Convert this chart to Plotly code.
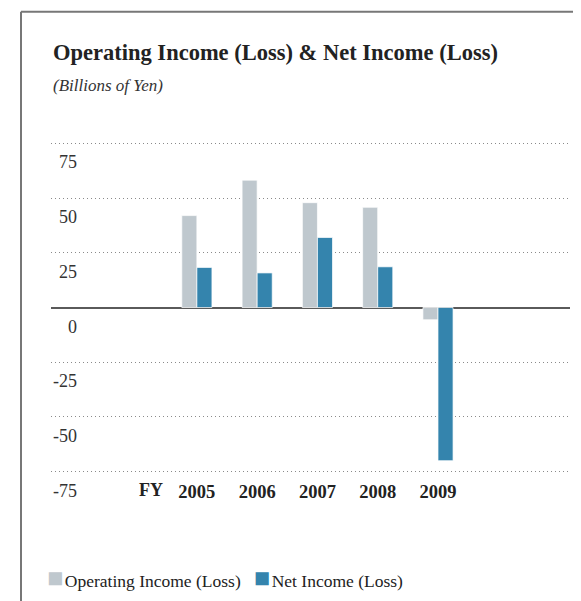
import plotly.graph_objects as go

years = ["2005", "2006", "2007", "2008", "2009"]
operating_income = [42.0, 58.2, 47.9, 45.8, -5.6]
net_income = [18.3, 15.8, 32.0, 18.6, -70.0]
y_ticks = [75, 50, 25, 0, -25, -50, -75]
series_names = ["Operating Income (Loss)", "Net Income (Loss)"]

GREY = "#BFC8CE"
BLUE = "#3484AD"
SERIF = "Liberation Serif"

W, H = 581, 601
OFF = 8  # page body margin: screen = figure + OFF

# screen-space: zero line at 307.5, 75 -> 143, -75 -> 472
K = (472 - 143) / 150.0
ZERO_Y = 307.5
YMAX = 77
SX0, SX1 = 51, 570
SY0, SY1 = ZERO_Y - YMAX * K, ZERO_Y + YMAX * K
L, R, T, B = SX0 - OFF, W - (SX1 - OFF), SY0 - OFF, H - (SY1 - OFF)
PW, PH = W - L - R, H - T - B


def px(sx):
    return (sx - SX0) / PW


def py(sy):
    return (SY1 - sy) / PH


fig = go.Figure()
fig.add_trace(go.Bar(x=years, y=operating_income, name=series_names[0],
                     marker=dict(color=GREY, line=dict(color="rgba(255,255,255,0.7)", width=1))))
fig.add_trace(go.Bar(x=years, y=net_income, name=series_names[1],
                     marker=dict(color=BLUE, line=dict(color="rgba(255,255,255,0.7)", width=1))))

annotations = []
for v in y_ticks:
    annotations.append(dict(xref="paper", yref="y", x=px(79), y=v,
                            xanchor="right", yanchor="middle", yshift=-19, showarrow=False,
                            text=str(v), font=dict(family=SERIF, size=18, color="#333")))
annotations.append(dict(xref="paper", yref="paper", x=px(151), y=py(490),
                        xanchor="center", yanchor="middle", showarrow=False,
                        text="<b>FY</b>", font=dict(family=SERIF, size=18, color="#222")))
annotations.append(dict(xref="paper", yref="paper", x=px(51), y=py(52),
                        xanchor="left", yanchor="middle", showarrow=False,
                        text="<b>Operating Income (Loss) &amp; Net Income (Loss)</b>",
                        font=dict(family=SERIF, size=22.5, color="#222")))
annotations.append(dict(xref="paper", yref="paper", x=px(51), y=py(85),
                        xanchor="left", yanchor="middle", showarrow=False,
                        text="<i>(Billions of Yen)</i>",
                        font=dict(family=SERIF, size=17, color="#333")))
sq = 'font-size:27px'
legend_text = (f'<span style="color:{GREY};{sq}">■</span><span style="font-size:6px"> </span>{series_names[0]}'
               f'&nbsp;&nbsp;&nbsp;<span style="color:{BLUE};{sq}">■</span><span style="font-size:6px"> </span>{series_names[1]}')
annotations.append(dict(xref="paper", yref="paper", x=px(45), y=py(579),
                        xanchor="left", yanchor="middle", showarrow=False,
                        text=legend_text, font=dict(family=SERIF, size=17.5, color="#222")))

fig.update_layout(
    width=W, height=H,
    margin=dict(l=L, r=R, t=T, b=B),
    paper_bgcolor="white", plot_bgcolor="white",
    barmode="group", bargap=0.5, bargroupgap=0,
    showlegend=False,
    annotations=annotations,
    xaxis=dict(type="category", range=[-2.42, 6.19], showgrid=False, showline=False,
               zeroline=False, ticks="", ticklabelstandoff=2,
               tickfont=dict(family=SERIF, size=18.5, color="#222"),
               tickprefix="<b>", ticksuffix="</b>"),
    yaxis=dict(range=[-YMAX, YMAX], tickvals=y_ticks, showticklabels=False,
               showgrid=True, gridcolor="#8a8a8a", gridwidth=1, griddash="1px,3px",
               zeroline=True, zerolinecolor="#5a5a5a", zerolinewidth=2, showline=False),
    shapes=[
        dict(type="line", xref="paper", yref="paper", x0=px(21), x1=px(W + 20),
             y0=py(11), y1=py(11), line=dict(color="#777", width=2)),
        dict(type="line", xref="paper", yref="paper", x0=px(21), x1=px(21),
             y0=py(11), y1=py(H + 20), line=dict(color="#777", width=2)),
    ],
)

fig.write_html("out.html")
